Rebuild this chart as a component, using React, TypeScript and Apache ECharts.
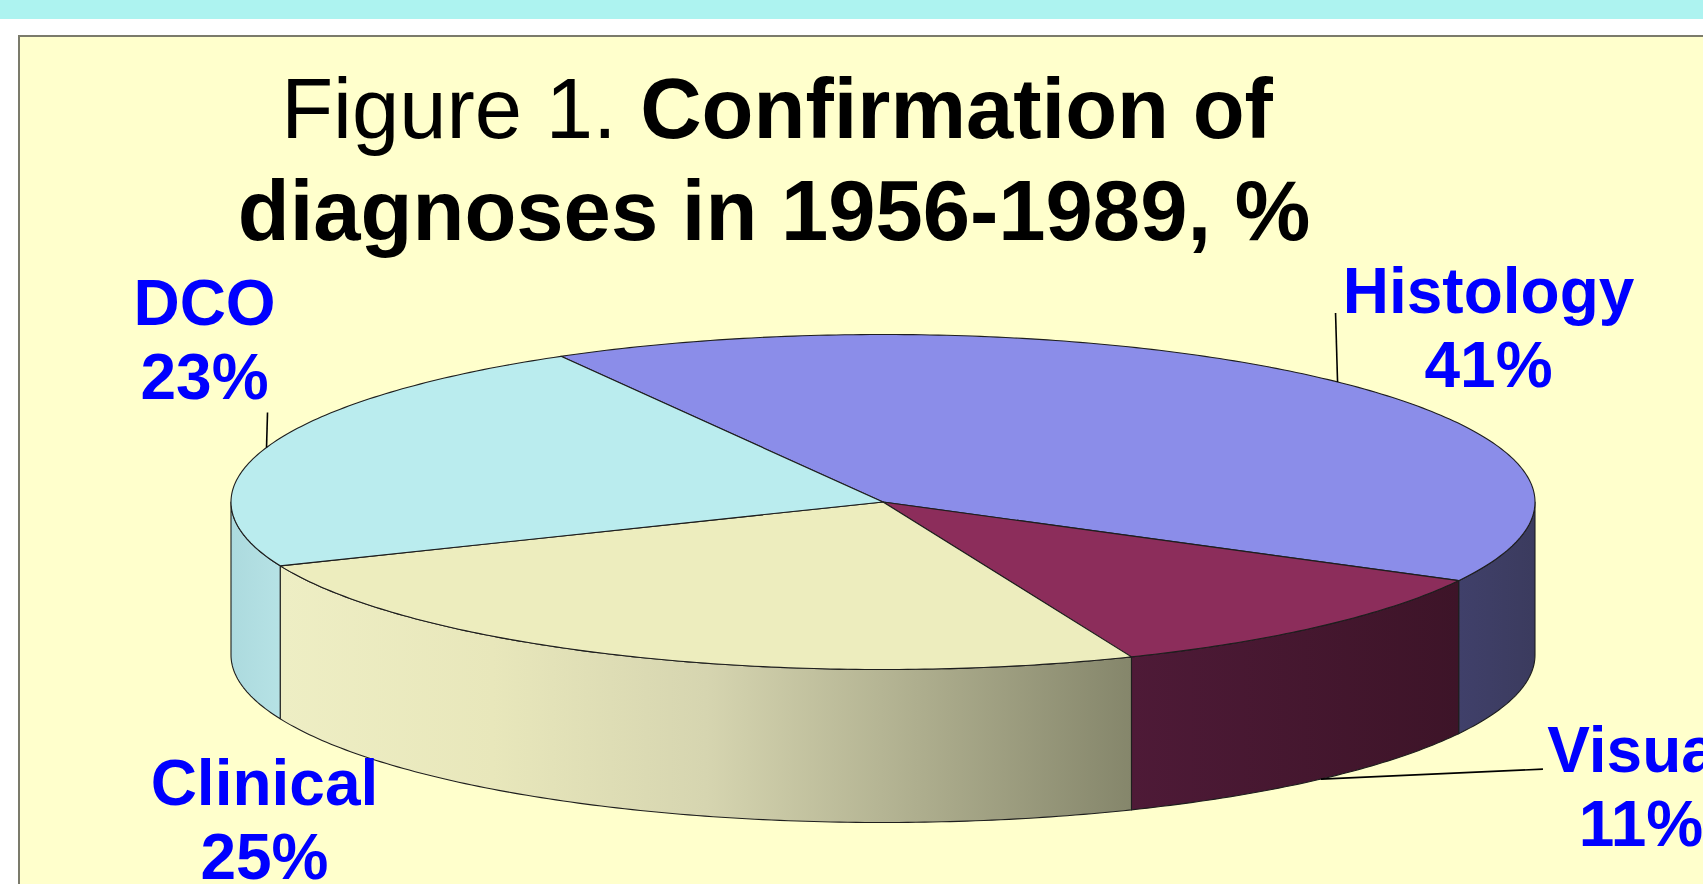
import React, { useEffect, useRef } from "react";
import * as echarts from "echarts";

// ---- data ----
const categories = ["Histology", "Visual", "Clinical", "DCO"];
const values = [41, 11, 25, 23];
const titleRegular = "Figure 1. ";
const titleBold1 = "Confirmation of";
const titleBold2 = "diagnoses in 1956-1989, %";

// ---- styles / layout ----
const topColors = ["#8B8DE9", "#8C2D5B", "#EDEDBE", "#BAECEE"];
const sideStops: string[][] = [
  ["#40406A", "#3B3B5E"],
  ["#4E1A37", "#3D1428"],
  ["#EEEEC4", "#E8E7BB", "#D6D5B0", "#AEAE8E", "#85866B"],
  ["#ACDADE", "#B6E2E5"],
];
// rim: which ellipse rim the label hangs from; line: leader end offset; text: label centre offset
const labelLayout = [
  { rim: "top", line: [-2, -69], text: [151, -54] },
  { rim: "bottom", line: [222, -10], text: [320, 8] },
  { rim: "bottom", line: null, text: [-368, 10] },
  { rim: "top", line: [1, -35], text: [-62, -107] },
];

const W = 1703;
const H = 884;
const CX = 883;
const CY = 502;
const RX = 652;
const RY = 167.5;
const DEPTH = 153;
const START_ANGLE = -119.6;
const FONT = "'Liberation Sans', Arial, sans-serif";
const EDGE = "#1e1e1e";

const total = values.reduce((a, b) => a + b, 0);
const cumulative = values.map((_, i) => values.slice(0, i).reduce((a, b) => a + b, 0));

function pt(deg: number, dy = 0): number[] {
  const r = (deg * Math.PI) / 180;
  return [CX + RX * Math.cos(r), CY + RY * Math.sin(r) + dy];
}
function arc(s: number, e: number, dy: number): number[][] {
  const n = Math.max(2, Math.ceil(Math.abs(e - s) / 0.75));
  const out: number[][] = [];
  for (let j = 0; j <= n; j++) out.push(pt(s + ((e - s) * j) / n, dy));
  return out;
}

const renderItem = (params: any, api: any) => {
  const i = params.dataIndex;
  const v = api.value(0);
  const before = api.value(1);
  const a0 = START_ANGLE + (before / total) * 360;
  const a1 = a0 + (v / total) * 360;
  const children: any[] = [];

  // visible side wall (front half: 0..180 degrees)
  for (const off of [-360, 0, 360]) {
    const s = Math.max(a0, 0 + off);
    const e = Math.min(a1, 180 + off);
    if (e > s) {
      const pts = arc(s, e, 0).concat(arc(e, s, DEPTH));
      const stops = sideStops[i];
      children.push({
        type: "polygon",
        shape: { points: pts },
        style: {
          fill: new echarts.graphic.LinearGradient(
            0, 0, 1, 0,
            stops.map((c, k) => ({ offset: k / (stops.length - 1), color: c }))
          ),
          stroke: EDGE,
          lineWidth: 1.1,
          lineJoin: "round",
        },
      });
    }
  }

  // top face
  children.push({
    type: "polygon",
    shape: { points: [[CX, CY]].concat(arc(a0, a1, 0)) },
    style: { fill: topColors[i], stroke: EDGE, lineWidth: 1.1, lineJoin: "round" },
  });

  // label
  const mid = (a0 + a1) / 2;
  const lay = labelLayout[i];
  const anchor = pt(mid, lay.rim === "bottom" ? DEPTH : 0);
  if (lay.line) {
    children.push({
      type: "line",
      shape: { x1: anchor[0], y1: anchor[1], x2: anchor[0] + lay.line[0], y2: anchor[1] + lay.line[1] },
      style: { stroke: "#000", lineWidth: 1.6 },
    });
  }
  children.push({
    type: "text",
    x: anchor[0] + lay.text[0],
    y: anchor[1] + lay.text[1],
    style: {
      text: categories[i] + "\n" + Math.round((v / total) * 100) + "%",
      fill: "#0000FF",
      fontSize: 64,
      fontWeight: "bold",
      fontFamily: FONT,
      align: "center",
      verticalAlign: "middle",
      lineHeight: 74,
    },
  });

  return { type: "group", children };
};

export default function App() {
  const ref = useRef<HTMLDivElement>(null);
  useEffect(() => {
    if (!ref.current) return;
    const chart = echarts.init(ref.current, null, { renderer: "svg" });
    chart.setOption({
      animation: false,
      backgroundColor: "#FFFFFF",
      graphic: [
        { type: "rect", z: -10, shape: { x: 0, y: 0, width: W, height: 19 }, style: { fill: "#ADF3F0" } },
        {
          type: "rect",
          z: -10,
          shape: { x: 19, y: 36, width: W, height: H },
          style: { fill: "#FFFFCC", stroke: "#7B7B6B", lineWidth: 2 },
        },
        {
          type: "text",
          z: 10,
          x: 777,
          y: 108,
          style: {
            text: "{r|" + titleRegular + "}{b|" + titleBold1 + "}",
            align: "center",
            verticalAlign: "middle",
            rich: {
              r: { fontSize: 85, fontFamily: FONT, fontWeight: "normal", fill: "#000" },
              b: { fontSize: 85, fontFamily: FONT, fontWeight: "bold", fill: "#000" },
            },
          },
        },
        {
          type: "text",
          z: 10,
          x: 774,
          y: 210,
          style: {
            text: titleBold2,
            fontSize: 85,
            fontFamily: FONT,
            fontWeight: "bold",
            fill: "#000",
            align: "center",
            verticalAlign: "middle",
          },
        },
      ],
      series: [
        {
          type: "custom",
          coordinateSystem: "none",
          renderItem,
          data: values.map((v, i) => ({ name: categories[i], value: [v, cumulative[i]] })),
        },
      ],
    });
    return () => chart.dispose();
  }, []);
  return <div ref={ref} style={{ position: "fixed", left: 0, top: 0, width: W, height: H }} />;
}
